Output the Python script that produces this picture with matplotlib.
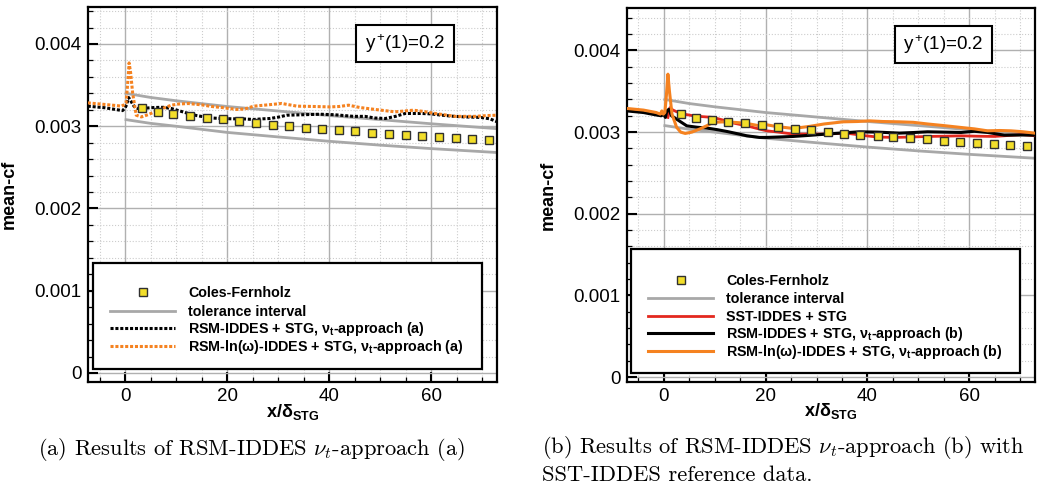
import numpy as np
import matplotlib
matplotlib.use('Agg')
import matplotlib.pyplot as plt
from matplotlib.patches import Rectangle
from matplotlib.ticker import MultipleLocator
from matplotlib.font_manager import FontProperties

plt.rcParams['font.family'] = ['Liberation Sans', 'DejaVu Sans']
plt.rcParams['mathtext.fontset'] = 'custom'
plt.rcParams['mathtext.rm'] = 'Liberation Sans'
plt.rcParams['mathtext.it'] = 'Liberation Sans:italic'
plt.rcParams['mathtext.bf'] = 'Liberation Sans:bold'

# Coles-Fernholz correlation (same in both panels)
cf_x = [3.3, 6.4, 9.5, 12.7, 16.0, 19.3, 22.4, 25.7, 29.0, 32.2, 35.4,
        38.6, 42.0, 45.1, 48.4, 51.7, 55.0, 58.2, 61.5, 64.8, 68.0, 71.3]
cf_y = [0.003216, 0.003175, 0.003146, 0.00312, 0.003106, 0.003085, 0.00306,
        0.00304, 0.00302, 0.003004, 0.00298, 0.00297, 0.00295, 0.00294,
        0.002923, 0.00291, 0.002894, 0.00288, 0.00287, 0.002857, 0.002845, 0.00283]

# tolerance interval
tol_x = [0.2, 5, 10, 20, 30, 40, 50, 60, 73]
tol_up = [0.00340, 0.00335, 0.00331, 0.00324, 0.003185, 0.00313, 0.00308, 0.00303, 0.00297]
tol_lo = [0.00308, 0.003035, 0.00300, 0.002925, 0.00287, 0.002817, 0.00277, 0.002728, 0.00268]

# (a) RSM-IDDES + STG, nu_t-approach (a)
rsm_a_x = [-7.3, -4, -1.5, -0.5, 0.0, 0.3, 0.7, 1.2, 1.8, 2.5, 4, 5.8, 7.5, 9.1,
           10.5, 12.4, 14, 15.6, 17, 18.9, 21, 23, 25.2, 27, 28.4, 30, 31.7, 35,
           38.2, 41, 44.8, 47, 49, 51, 53, 54.9, 58.2, 60, 62.1, 64.5, 66.7,
           68.5, 69.9, 71.5, 73]
rsm_a_y = [0.003244, 0.003225, 0.0032, 0.00319, 0.00322, 0.00326, 0.00335, 0.0033,
           0.00324, 0.003215, 0.00322, 0.003228, 0.00323, 0.003215, 0.00319,
           0.003155, 0.00313, 0.003113, 0.0031, 0.003094, 0.00309, 0.00309,
           0.003082, 0.00309, 0.003094, 0.00311, 0.003134, 0.00314, 0.003146,
           0.00314, 0.00312, 0.00312, 0.0031, 0.003094, 0.00312, 0.003155,
           0.003155, 0.00315, 0.003134, 0.00312, 0.003113, 0.00311, 0.003106,
           0.00309, 0.003052]

# (a) RSM-ln(omega)-IDDES + STG, nu_t-approach (a)
lnw_a_x = [-7.3, -4, -1.5, -0.7, -0.2, 0.2, 0.5, 0.8, 1.1, 1.5, 2.2, 3.2, 4.5, 5.8,
           7.5, 9.1, 10.5, 12.4, 15, 17, 18.9, 21.9, 23.5, 25.2, 28, 30.7, 33.7,
           37, 40.2, 42, 43.8, 46, 49, 52.9, 56.5, 58.5, 60.8, 64.7, 68.6, 71, 73]
lnw_a_y = [0.003284, 0.003265, 0.00325, 0.003244, 0.00326, 0.00328, 0.0035,
           0.00377, 0.00365, 0.0034, 0.003134, 0.003113, 0.00314, 0.003175,
           0.00322, 0.003256, 0.00327, 0.003276, 0.00326, 0.00324, 0.003228,
           0.003204, 0.00321, 0.003244, 0.00326, 0.003277, 0.003244, 0.00324,
           0.003235, 0.00324, 0.003256, 0.003228, 0.003204, 0.003175, 0.003195,
           0.00318, 0.003155, 0.00312, 0.00312, 0.00313, 0.003134]

# (b) SST-IDDES + STG
sst_x = [0.8, 1.2, 1.8, 2.5, 4, 5.8, 7.5, 9.7, 11.5, 13, 14.5, 16.3, 18.8, 20.2,
         22.5, 25.4, 28.5, 31.9, 35.8, 39.7, 42, 45.3, 48.5, 51.8, 55, 58.4,
         61.5, 64.9, 68, 70.5, 73]
sst_y = [0.00318, 0.0033, 0.00327, 0.00325, 0.00322, 0.0032, 0.00319, 0.00318,
         0.00315, 0.00312, 0.0031, 0.003077, 0.003037, 0.003016, 0.003, 0.002976,
         0.002976, 0.002976, 0.002988, 0.002955, 0.00294, 0.002935, 0.00294,
         0.002947, 0.00295, 0.002955, 0.00295, 0.002947, 0.00296, 0.00297, 0.002955]

# (b) RSM-IDDES + STG, nu_t-approach (b)
rsm_b_x = [-7.3, -4, -1.5, -0.5, 0, 0.3, 0.6, 1.0, 1.5, 2.5, 4.5, 6.5, 8.4, 10.5,
           12.4, 14.5, 16.3, 18.8, 20.2, 22.5, 25.4, 28.5, 31.9, 35, 38.4, 42,
           46.3, 49, 51.8, 55, 58.4, 61, 63.6, 66.9, 70, 73]
rsm_b_y = [0.00326, 0.00324, 0.00321, 0.0032, 0.00322, 0.00318, 0.00326, 0.00328,
           0.0032, 0.003159, 0.003077, 0.00306, 0.00305, 0.00303, 0.003008,
           0.00298, 0.002955, 0.002935, 0.002935, 0.00294, 0.002947, 0.00296,
           0.002976, 0.00299, 0.003004, 0.003, 0.002988, 0.002995, 0.003004,
           0.003, 0.002996, 0.00301, 0.002996, 0.002963, 0.002965, 0.002963]

# (b) RSM-ln(omega)-IDDES + STG, nu_t-approach (b)
lnw_b_x = [-7.3, -4, -1.5, -0.7, -0.4, -0.1, 0.2, 0.5, 0.8, 1.1, 1.6, 2.5, 3.3,
           4.2, 5.5, 7, 8.5, 9.7, 11.5, 13.7, 16, 18.8, 20.2, 22, 25.4, 28.6,
           31.5, 35.2, 38, 40.4, 43, 46.3, 49, 51.8, 55, 58.4, 61, 63.6, 66,
           68.2, 70.5, 72.8]
lnw_b_y = [0.00329, 0.00327, 0.00324, 0.00322, 0.00326, 0.00322, 0.00324, 0.00345,
           0.00371, 0.0035, 0.00322, 0.00306, 0.003, 0.002984, 0.003, 0.003037,
           0.00308, 0.00312, 0.003125, 0.00312, 0.00311, 0.003077, 0.00309,
           0.00307, 0.003045, 0.00307, 0.0031, 0.003126, 0.00313, 0.003138,
           0.00313, 0.003126, 0.00312, 0.0031, 0.00308, 0.003057, 0.00304,
           0.003016, 0.00302, 0.003016, 0.003005, 0.002988]

GREY = '#a8a8a8'
ORANGE = '#f58220'
RED = '#e3281e'
YELLOW = '#f2de2a'

leg_font = FontProperties(family='Liberation Sans', weight='bold', size=10.3)


def setup_axes(ax, ylo, yhi):
    ax.set_xlim(-7.25, 72.9)
    ax.set_ylim(ylo, yhi)
    ax.xaxis.set_major_locator(MultipleLocator(20))
    ax.xaxis.set_minor_locator(MultipleLocator(5))
    ax.yaxis.set_major_locator(MultipleLocator(0.001))
    ax.yaxis.set_minor_locator(MultipleLocator(0.0002))
    ax.set_yticks([0, 0.001, 0.002, 0.003, 0.004])
    ax.set_yticklabels(['0', '0.001', '0.002', '0.003', '0.004'])
    ax.grid(which='major', color='#b0b0b0', lw=1.0, ls='-', zorder=0)
    ax.grid(which='minor', color='#cccccc', lw=0.8, ls=':', zorder=0)
    ax.set_axisbelow(True)
    ax.tick_params(which='major', direction='in', length=7, width=1.5,
                   labelsize=13.5, pad=4.5)
    ax.tick_params(which='minor', direction='in', length=3.5, width=0.9)
    for s in ax.spines.values():
        s.set_linewidth(1.6)
    ax.set_ylabel('mean-cf', fontsize=13, fontweight='bold')
    ax.yaxis.set_label_coords(-0.172, 0.5)
    ax.set_xlabel(r'x/δ$_\mathbf{STG}$', fontsize=13, fontweight='bold')
    ax.xaxis.set_label_coords(0.5, -0.052)

    # y+ box
    ax.add_patch(Rectangle((0.656, 0.852), 0.24, 0.101, transform=ax.transAxes,
                           facecolor='white', edgecolor='black', lw=1.5, zorder=6))
    ax.text(0.776, 0.902, r'y$^+\!$(1)=0.2', transform=ax.transAxes,
            fontsize=13.5, ha='center', va='center', zorder=7)


def ref_data(ax):
    ax.plot(tol_x, tol_up, color=GREY, lw=2.0, zorder=2, label='tolerance interval')
    ax.plot(tol_x, tol_lo, color=GREY, lw=2.0, zorder=2)


def squares(ax):
    ax.plot(cf_x, cf_y, ls='none', marker='s', ms=5.3, mfc=YELLOW, mec='#303030',
            mew=1.0, zorder=5, label='Coles-Fernholz')


def box_legend(ax, box, x0, top_plain, top_math):
    ax.add_patch(Rectangle(box[:2], box[2], box[3], transform=ax.transAxes,
                           facecolor='white', edgecolor='black', lw=1.6, zorder=8))
    h, l = ax.get_legend_handles_labels()
    order = [l.index('Coles-Fernholz')] + [i for i in range(len(l)) if l[i] != 'Coles-Fernholz']
    plain = [i for i in order if '$' not in l[i]]
    math = [i for i in order if '$' in l[i]]
    kw = dict(loc='upper left', frameon=False, prop=leg_font, handlelength=4.55,
              handletextpad=0.9, borderpad=0, borderaxespad=0)
    leg1 = ax.legend([h[i] for i in plain], [l[i] for i in plain],
                     bbox_to_anchor=(x0, top_plain), labelspacing=0.31, **kw)
    leg1.set_zorder(9)
    ax.add_artist(leg1)
    leg2 = ax.legend([h[i] for i in math], [l[i] for i in math],
                     bbox_to_anchor=(x0, top_math), labelspacing=-0.04, **kw)
    leg2.set_zorder(9)


fig = plt.figure(figsize=(10.38, 4.88), dpi=100)
ax1 = fig.add_axes([0.0848, 0.2172, 0.394, 0.7685])
ax2 = fig.add_axes([0.604, 0.2172, 0.393, 0.7664])

# panel (a)
setup_axes(ax1, -0.00011, 0.00445)
ref_data(ax1)
ax1.plot(rsm_a_x, rsm_a_y, color='black', lw=2.2, ls=(0, (1.0, 0.6)), zorder=3,
         label=r'RSM-IDDES + STG, ν$_\mathbf{t}$-approach (a)')
ax1.plot(lnw_a_x, lnw_a_y, color=ORANGE, lw=2.2, ls=(0, (1.0, 0.6)), zorder=4,
         label=r'RSM-ln(ω)-IDDES + STG, ν$_\mathbf{t}$-approach (a)')
squares(ax1)
box_legend(ax1, (0.012, 0.035, 0.951, 0.282), 0.054, 0.2555, 0.165)

# panel (b)
setup_axes(ax2, -0.00006, 0.00452)
ref_data(ax2)
ax2.plot(sst_x, sst_y, color=RED, lw=2.0, zorder=3, label='SST-IDDES + STG')
ax2.plot(rsm_b_x, rsm_b_y, color='black', lw=2.2, zorder=3,
         label=r'RSM-IDDES + STG, ν$_\mathbf{t}$-approach (b)')
ax2.plot(lnw_b_x, lnw_b_y, color=ORANGE, lw=2.2, zorder=4,
         label=r'RSM-ln(ω)-IDDES + STG, ν$_\mathbf{t}$-approach (b)')
squares(ax2)
box_legend(ax2, (0.0098, 0.024, 0.953, 0.332), 0.0515, 0.290, 0.152)

# captions
fig.text(0.242, 0.078, r'(a) Results of RSM-IDDES $\nu_t$-approach (a)',
         family='cmr10', math_fontfamily='cm', fontsize=16.2, ha='center', va='center')
fig.text(0.522, 0.082, r'(b) Results of RSM-IDDES $\nu_t$-approach (b) with',
         family='cmr10', math_fontfamily='cm', fontsize=16.2, ha='left', va='center')
fig.text(0.522, 0.027, 'SST-IDDES reference data.',
         family='cmr10', fontsize=16.2, ha='left', va='center')

fig.savefig('out.png', dpi=100)
